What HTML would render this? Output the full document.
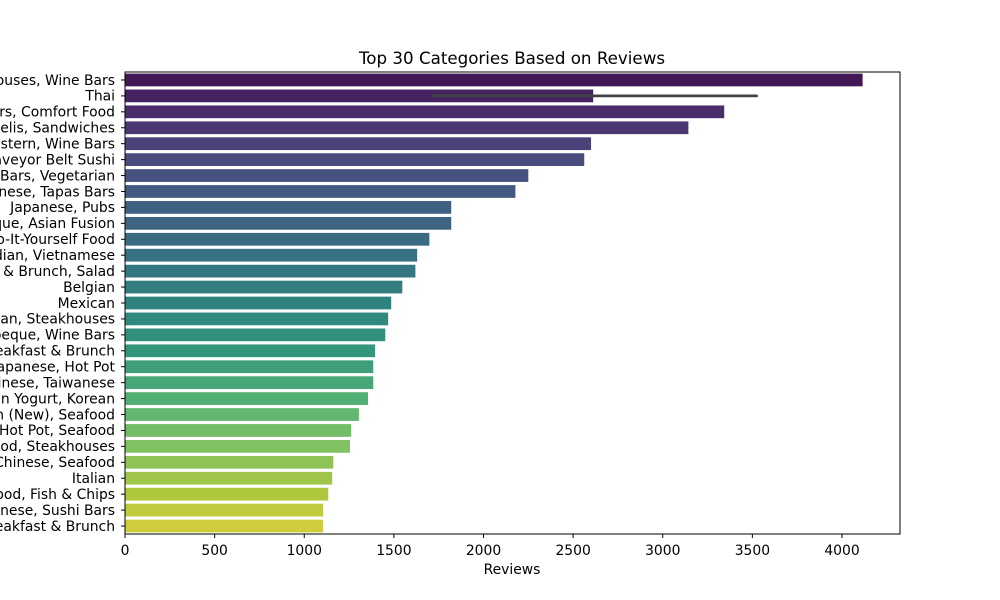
<!DOCTYPE html>
<html><head><meta charset="utf-8"><style>
body{margin:0;background:#fff}
svg{display:block;font-family:"DejaVu Sans","Liberation Sans",sans-serif}
</style></head><body>
<svg id="chart" width="1000" height="600">
<text x="512" y="64" text-anchor="middle" font-size="16.7">Top 30 Categories Based on Reviews</text>
<g id="bars"></g><g id="yticks"></g><g id="xticks"></g>
<rect x="125" y="72" width="775" height="462" fill="none" stroke="#000" stroke-width="1"/>
<text x="512" y="574" text-anchor="middle" font-size="13.9">Reviews</text>
</svg>
<script>
const categories=["ouses, Wine Bars","Thai","rs, Comfort Food","elis, Sandwiches","stern, Wine Bars","aveyor Belt Sushi","Bars, Vegetarian","nese, Tapas Bars","Japanese, Pubs","que, Asian Fusion","o-It-Yourself Food","dian, Vietnamese","& Brunch, Salad","Belgian","Mexican","an, Steakhouses","beque, Wine Bars","eakfast & Brunch","apanese, Hot Pot","inese, Taiwanese","n Yogurt, Korean","n (New), Seafood","Hot Pot, Seafood","ood, Steakhouses","Chinese, Seafood","Italian","ood, Fish & Chips","nese, Sushi Bars","eakfast & Brunch"];
const reviews=[4115,2612,3343,3143,2600,2562,2250,2178,1820,1820,1698,1630,1620,1547,1485,1468,1452,1395,1385,1385,1356,1305,1262,1255,1162,1156,1134,1105,1105];
const errLow=[null,1710,null,null,null,null,null,null,null,null,null,null,null,null,null,null,null,null,null,null,null,null,null,null,null,null,null,null,null];
const errHigh=[null,3530,null,null,null,null,null,null,null,null,null,null,null,null,null,null,null,null,null,null,null,null,null,null,null,null,null,null,null];
const xTicks=[0,500,1000,1500,2000,2500,3000,3500,4000];
const NS="http://www.w3.org/2000/svg";
const x0=125,pxPer=717/4000,plotTop=72,plotH=462;
const band=plotH/categories.length;
const xs=v=>x0+v*pxPer;
const yc=i=>plotTop+band*(i+0.5);
const vir=[[68,1,84],[72,36,117],[65,68,135],[53,95,141],[42,120,142],[33,145,140],[34,168,132],[68,191,112],[122,209,81],[189,223,38],[253,231,37]];
function viridis(t){const p=t*10,i=Math.min(9,Math.floor(p)),f=p-i;return vir[i].map((c,k)=>c+(vir[i+1][k]-c)*f);}
function desat([r,g,b],s){r/=255;g/=255;b/=255;const mx=Math.max(r,g,b),mn=Math.min(r,g,b),l=(mx+mn)/2;let h=0,S=0;const d=mx-mn;
if(d){S=l>0.5?d/(2-mx-mn):d/(mx+mn);h=mx==r?((g-b)/d+(g<b?6:0)):mx==g?(b-r)/d+2:(r-g)/d+4;h/=6;}S*=s;
const q=l<0.5?l*(1+S):l+S-l*S,pp=2*l-q;const hue=t=>{t=(t+1)%1;return t<1/6?pp+(q-pp)*6*t:t<1/2?q:t<2/3?pp+(q-pp)*(2/3-t)*6:pp;};
return `rgb(${[hue(h+1/3),hue(h),hue(h-1/3)].map(v=>Math.round(v*255)).join(',')})`;}
const gb=document.getElementById('bars'),gy=document.getElementById('yticks'),gx=document.getElementById('xticks');
const n=categories.length;
categories.forEach((c,i)=>{
 const r=document.createElementNS(NS,'rect');
 r.setAttribute('x',x0);r.setAttribute('y',yc(i)-band*0.4);r.setAttribute('width',xs(reviews[i])-x0);r.setAttribute('height',band*0.8);
 r.setAttribute('fill',desat(viridis((i+1)/(n+1)),0.75));
 
 
 gb.appendChild(r);
 if(errLow[i]!=null){const l=document.createElementNS(NS,'line');
  l.setAttribute('x1',xs(errLow[i]));l.setAttribute('x2',xs(errHigh[i]));l.setAttribute('y1',yc(i));l.setAttribute('y2',yc(i));
  l.setAttribute('stroke','#424242');l.setAttribute('stroke-width','2.7');
  
  
  gb.appendChild(l);}
 const tk=document.createElementNS(NS,'line');
 tk.setAttribute('x1',x0-4);tk.setAttribute('x2',x0);tk.setAttribute('y1',yc(i));tk.setAttribute('y2',yc(i));tk.setAttribute('stroke','#000');
 gy.appendChild(tk);
 const t=document.createElementNS(NS,'text');
 t.setAttribute('x',x0-10);t.setAttribute('y',yc(i)+4.8);t.setAttribute('text-anchor','end');t.setAttribute('font-size','13.9');
 t.textContent=c;
 
 
 gy.appendChild(t);
});
xTicks.forEach(v=>{
 const tk=document.createElementNS(NS,'line');
 tk.setAttribute('x1',xs(v));tk.setAttribute('x2',xs(v));tk.setAttribute('y1',534);tk.setAttribute('y2',538);tk.setAttribute('stroke','#000');
 gx.appendChild(tk);
 const t=document.createElementNS(NS,'text');
 t.setAttribute('x',xs(v));t.setAttribute('y',555);t.setAttribute('text-anchor','middle');t.setAttribute('font-size','13.9');
 t.textContent=v;
 
 
 gx.appendChild(t);
});
</script>
</body></html>
